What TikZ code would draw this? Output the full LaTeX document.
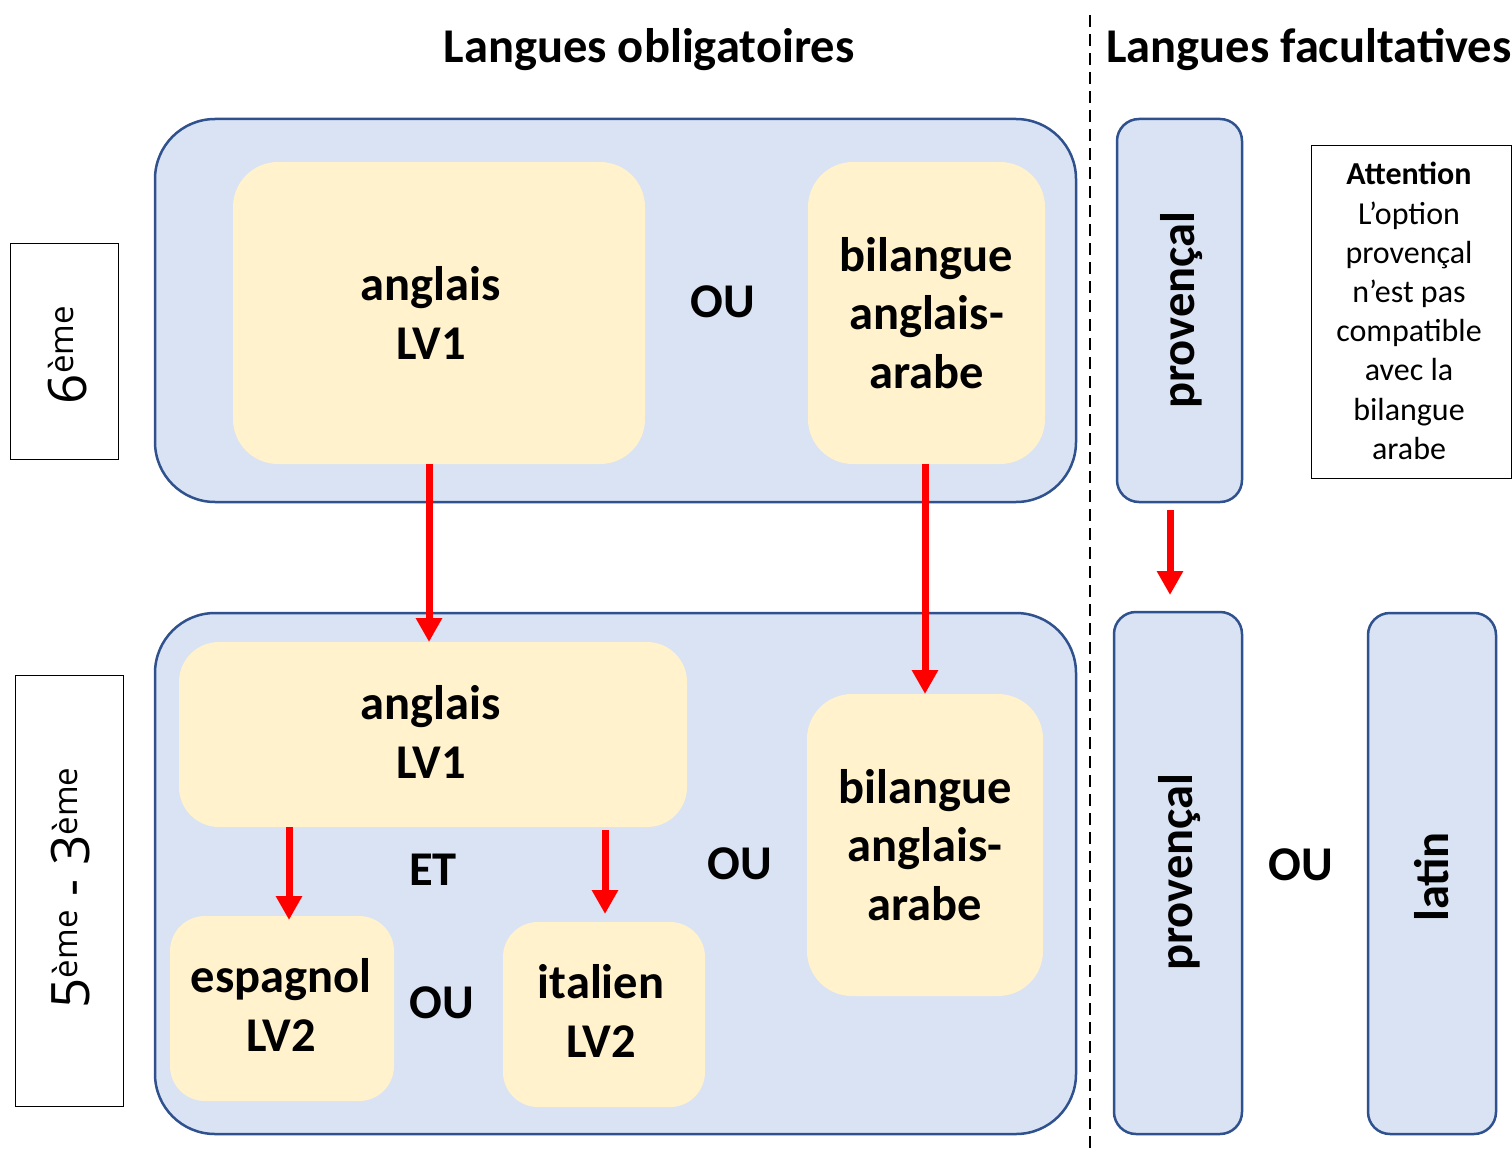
\documentclass[tikz,border=0pt]{standalone}
\usepackage{fontspec}
\setmainfont{Carlito}
\newfontfamily\lblfont{Open Sans}
\usetikzlibrary{arrows.meta}
\definecolor{bluefill}{HTML}{DAE3F3}
\definecolor{bluedraw}{HTML}{2F528F}
\definecolor{yellowfill}{HTML}{FFF2CC}
\newcommand{\emesup}{\raisebox{12.5pt}{\fontsize{33}{38}\selectfont ème}}
\begin{document}
\begin{tikzpicture}[x=1pt,y=-1pt,
  bigbox/.style={draw=bluedraw, line width=2.5pt, fill=bluefill, rounded corners=60pt, inner sep=0pt, outer sep=0pt},
  inbox/.style={fill=yellowfill, rounded corners=45pt, inner sep=0pt, outer sep=0pt, align=center, font=\bfseries\fontsize{48.5}{58.5}\selectfont},
  intext/.style={align=center, inner sep=0pt, font=\bfseries\fontsize{48.5}{58.5}\selectfont},
  optbox/.style={draw=bluedraw, line width=2.5pt, fill=bluefill, rounded corners=22pt, inner sep=0pt, outer sep=0pt},
  lbl/.style={font=\bfseries\fontsize{48.5}{58}\selectfont, inner sep=0pt},
  levelbox/.style={draw=black, line width=1pt, fill=white, inner sep=0pt, outer sep=0pt},
  leveltext/.style={rotate=90, inner sep=0pt, font=\lblfont\fontsize{53}{60}\selectfont},
  redarrow/.style={draw=red, line width=7pt, -{Triangle[length=24pt,width=25pt]}}]
\useasboundingbox (0,0) rectangle (1512,1153);
\fill[white] (0,0) rectangle (1512,1153);

% titles
\node[lbl] (t1) at (649,50) {Langues obligatoires};
\node[lbl, anchor=west] (t2) at (1106,50) {Langues facultatives};
\coordinate (dtop) at (1090,15);
\coordinate (dbot) at (1090,1148);
\draw[line width=2pt, dash pattern=on 12pt off 7pt] (dtop) -- (dbot);

% level boxes
\node[levelbox, minimum width=108pt, minimum height=216pt] (l6) at (64,351) {};
\node[leveltext] (l6t) at (67.5,355) {6\emesup};
\node[levelbox, minimum width=108pt, minimum height=431pt] (l5) at (69,890.5) {};
\node[leveltext] (l5t) at (71,888) {5\emesup{} - 3\emesup};

% top big box
\node[bigbox, minimum width=921pt, minimum height=383pt] (top) at (615.5,310.5) {};
\node[inbox, minimum width=412pt, minimum height=302pt] (ang1) at (439,313) {};
\node[intext] (ang1t) at (431,313) {anglais\\LV1};
\node[lbl] (ou1) at (723,302) {OU};
\node[inbox, minimum width=237pt, minimum height=302pt] (bil1) at (926.5,313) {bilangue\\anglais-\\arabe};

% bottom big box
\node[bigbox, minimum width=921pt, minimum height=521pt] (bot) at (615.5,873.5) {};
\node[inbox, minimum width=508pt, minimum height=185pt, rounded corners=40pt] (ang2) at (433,734.5) {};
\node[intext] (ang2t) at (431,732) {anglais\\LV1};
\node[lbl] (et) at (433,870) {ET};
\node[inbox, minimum width=224pt, minimum height=185pt, rounded corners=35pt] (esp) at (282,1008.5) {};
\node[intext] (espt) at (281,1005) {espagnol\\LV2};
\node[lbl] (ou2) at (442,1003) {OU};
\node[inbox, minimum width=202pt, minimum height=185pt, rounded corners=35pt] (ita) at (604,1014.5) {};
\node[intext] (itat) at (601,1011) {italien\\LV2};
\node[lbl] (ou3) at (740,864) {OU};
\node[inbox, minimum width=236pt, minimum height=302pt] (bil2) at (925,845) {bilangue\\anglais-\\arabe};

% optional languages
\node[optbox, minimum width=125pt, minimum height=383pt] (prov1) at (1179.5,310.5) {};
\node[lbl, rotate=90] (prov1t) at (1182,310) {provençal};
\node[levelbox, minimum width=200pt, minimum height=332pt] (att) at (1411,312) {};
\node[align=center, inner sep=0pt, font=\fontsize{32}{39.2}\selectfont] (attt) at (1409,311) {\textbf{Attention}\\L’option\\provençal\\n’est pas\\compatible\\avec la\\bilangue\\arabe};
\node[optbox, minimum width=128pt, minimum height=522pt] (prov2) at (1178,873) {};
\node[lbl, rotate=90] (prov2t) at (1180,872) {provençal};
\node[lbl] (ou4) at (1301,865) {OU};
\node[optbox, minimum width=128pt, minimum height=521pt] (lat) at (1432,873.5) {};
\node[lbl, rotate=90] (latt) at (1432,877) {latin};

% arrows
\draw[redarrow] (ang1.south -| 429,0) -- (ang2.north -| 429,0);
\draw[redarrow] (bil1.south -| 925,0) -- (bil2.north -| 925,0);
\draw[redarrow] (ang2.south -| 289,0) -- ([yshift=-4pt]esp.north -| 289,0);
\draw[redarrow, shorten <=3pt, shorten >=8pt] (ang2.south -| 605,0) -- (ita.north -| 605,0);
\draw[redarrow, shorten <=8pt, shorten >=17pt] (prov1.south -| 1170,0) -- (prov2.north -| 1170,0);
\end{tikzpicture}
\end{document}
